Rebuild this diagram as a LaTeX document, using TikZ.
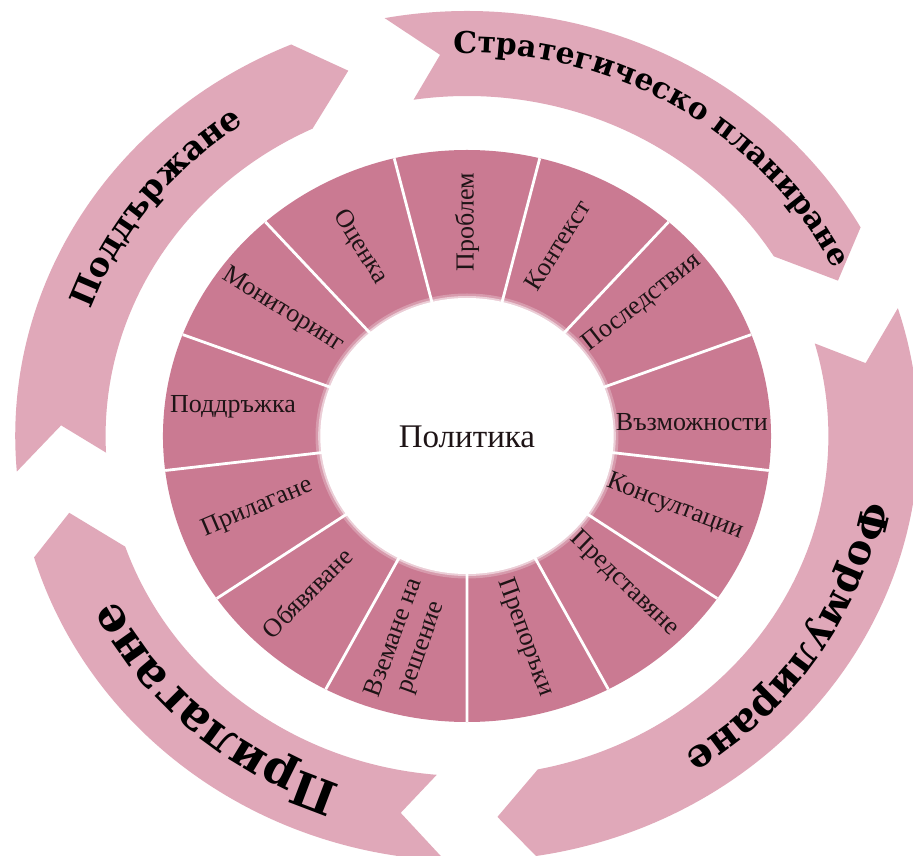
\documentclass[tikz,border=0pt]{standalone}
\usepackage{fontspec}
\setmainfont{Liberation Serif}
\newfontfamily\outerfont{DejaVu Serif}
\usetikzlibrary{decorations.text}
\definecolor{segpink}{RGB}{202,122,146}
\definecolor{arrowpink}{RGB}{224,168,185}
\definecolor{labelink}{RGB}{30,20,22}
\tikzset{
  seglabel/.style={font=\fontsize{13}{14.5}\selectfont, text=labelink, inner sep=0pt, align=center},
  sepline/.style={draw=white, line width=1.4pt},
  arrowband/.style={fill=arrowpink},
  outertext/.style={decorate, decoration={text along path, text align=center, text={#1}}},
}
% tail outer, tail inner, notch, head outer, head inner, tip
\newcommand\ringarrow[6]{%
  \path[arrowband] (#1:425) arc[start angle=#1, end angle=#4, radius=425]
    -- (#6:382) -- (#5:340) arc[start angle=#5, end angle=#2, radius=340]
    -- (#3:382) -- cycle;}
\begin{document}
\begin{tikzpicture}[x=0.5315pt, y=0.5pt]
\useasboundingbox[fill=white] (-439.32,-419) rectangle (419.57,436);
% outer arrows
\ringarrow{100.5}{98.5}{93.8}{29.4}{31.9}{24}
\ringarrow{17.5}{15.8}{11}{-81.2}{-78.7}{-85.7}
\ringarrow{-92.8}{-94.8}{-99.4}{-163.4}{-161}{-168.4}
\ringarrow{184.8}{182.8}{178.4}{112.9}{115.3}{107}
% segment ring
\fill[segpink] (0,0) circle[radius=286];
\foreach \k in {0,...,12} \draw[sepline] (0,0) -- ({76.154-27.692*\k}:286);
\fill[white, opacity=0.25] (0,0) circle[radius=142.5];
\fill[white, opacity=0.5] (0,0) circle[radius=140];
\fill[white] (0,0) circle[radius=138];
% segment labels
\node[seglabel, rotate=90] (problem) at (90:214) {Проблем};
\node[seglabel, rotate=58] (kontekst) at (66:209) {Контекст};
\node[seglabel, rotate=38] (posledstvia) at (39:212) {Последствия};
\node[seglabel] (vazmozhnosti) at (3.8:212) {Възможности};
\node[seglabel, rotate=-21] (konsultacii) at (-20:208) {Консултации};
\node[seglabel, rotate=-44] (predstavyane) at (-45:209) {Представяне};
\node[seglabel, rotate=-70] (preporaki) at (-74.8:209) {Препоръки};
\node[seglabel, rotate=70] (vzemane) at (-105:214) {Вземане на\\решение};
\node[seglabel, rotate=45] (obyavyavane) at (-133.8:217) {Обявяване};
\node[seglabel, rotate=23] (prilagane) at (-160:210) {Прилагане};
\node[seglabel] (poddrazhka) at (172.5:222) {Поддръжка};
\node[seglabel, rotate=-32] (monitoring) at (144:214) {Мониторинг};
\node[seglabel, rotate=-58] (ocenka) at (118:214) {Оценка};
\node[font=\fontsize{16.5}{18}\selectfont, text=labelink] (politika) at (0,-1) {Политика};
% outer labels along the arrows
\path[outertext={|\outerfont\bfseries\fontsize{15}{15}\selectfont|Стратегическо планиране}] (98.7:383) arc[start angle=98.7, end angle=18.7, radius=383];
\path[outertext={|\outerfont\bfseries\fontsize{20}{20}\selectfont|Формулиране}] (1.7:378) arc[start angle=1.7, end angle=-68.3, radius=378];
\path[outertext={|\outerfont\bfseries\fontsize{23.5}{24}\selectfont|Прилагане}] (263.5:369) arc[start angle=263.5, end angle=193.5, radius=369];
\path[outertext={|\outerfont\bfseries\fontsize{16.5}{17}\selectfont|Поддържане}] (172.4:376) arc[start angle=172.4, end angle=112.4, radius=376];
\end{tikzpicture}
\end{document}
